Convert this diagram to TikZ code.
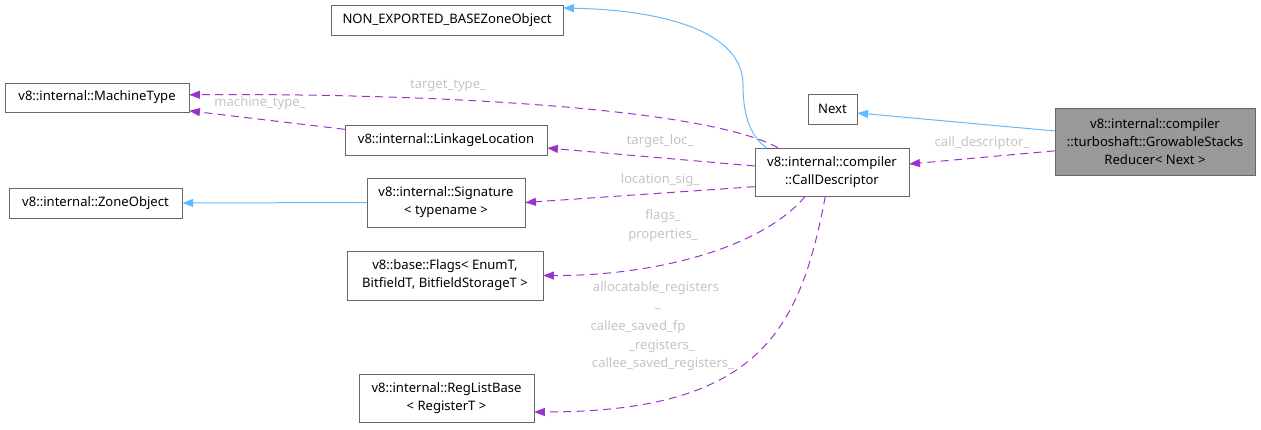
\documentclass[tikz,border=0pt]{standalone}
\usepackage{fontspec}
\setmainfont{Noto Sans}
\usepackage{tikz}
\usetikzlibrary{arrows.meta, positioning}

\begin{document}
\begin{tikzpicture}[x=0.75pt, y=-0.75pt, >={Triangle[length=8pt, width=6pt]},
    every node/.style={align=center, font=\fontsize{9.8}{13.5}\selectfont},
    cls/.style={draw=black!60, fill=white, inner sep=0pt, minimum height=22.5pt},
    inh/.style={->, draw=blueedge, line width=0.75pt},
    use/.style={->, draw=useedge, dash pattern=on 6pt off 4pt, line width=0.75pt},
    lbl/.style={text=lblgray}]
      \definecolor{blueedge}{HTML}{63B8FF}
      \definecolor{useedge}{HTML}{9A32CD} \definecolor{lblgray}{HTML}{C4C4C4}
      \useasboundingbox (0,0) rectangle (1261,429);
      % classes
      \node[cls, minimum width=174pt] (nonexp) at (447,20) {NON\_EXPORTED\_BASEZoneObject};
      \node[cls, minimum width=138pt, minimum height=22pt] (mtype) at (97,97.5) {v8::internal::MachineType};
      \node[cls, minimum width=151.5pt] (linkloc) at (446,140) {v8::internal::LinkageLocation};
      \node[cls, minimum width=130pt] (zoneobj) at (95.5,203) {v8::internal::ZoneObject};
      \node[cls, minimum width=118.5pt, minimum height=36.75pt] (sig) at (446,202.5) {v8::internal::Signature\\{}< typename >};
      \node[cls, minimum width=147pt, minimum height=36.75pt] (flags) at (445,275.5) {v8::base::Flags< EnumT,\\BitfieldT, BitfieldStorageT >};
      \node[cls, minimum width=131pt, minimum height=36pt] (reglist) at (446.5,398) {v8::internal::RegListBase\\{}< RegisterT >};
      \node[cls, minimum width=37pt] (next) at (832.5,109) {Next};
      \node[cls, minimum width=115.5pt, minimum height=36pt] (calldesc) at (832,172) {v8::internal::compiler\\::CallDescriptor};
      \node[cls, fill=black!40, minimum width=150pt, minimum height=50pt] (grow) at (1155,141.5) {v8::internal::compiler\\::turboshaft::GrowableStacks\\Reducer< Next >};
      % inheritance
      \draw[inh] ([yshift=7.9pt]grow.west) -- ([yshift=-3pt]next.east);
      \draw[inh] ([xshift=-49pt]calldesc.north) .. controls (748,135) and (743,110) .. (743,85)
            .. controls (743,30) and (660,10) .. ([yshift=9pt]nonexp.east);
      \draw[inh] (sig.west) -- (zoneobj.east);
      % usage
      \draw[use] ([yshift=-7pt]grow.west) -- ([yshift=6pt]calldesc.east);
      \draw[use] ([xshift=-40.5pt]calldesc.north) .. controls (700,105) and (400,93) .. ([yshift=2pt]mtype.east);
      \draw[use] ([yshift=8pt]linkloc.west) -- ([yshift=-10pt]mtype.east);
      \draw[use] ([yshift=4.5pt]calldesc.west) -- ([yshift=-6pt]linkloc.east);
      \draw[use] ([yshift=-11pt]calldesc.west) -- (sig.east);
      \draw[use] ([xshift=-20pt]calldesc.south) .. controls (760,250) and (650,276) .. (flags.east);
      \draw[use] ([xshift=-5pt]calldesc.south) .. controls (800,330) and (760,412) .. ([yshift=-10.5pt]reglist.east);
      % labels
      \node[lbl] (l1) at (982,143) {call\_descriptor\_};
      \node[lbl] (l2) at (448,86) {target\_type\_};
      \node[lbl] (l3) at (260,103) {machine\_type\_};
      \node[lbl] (l4) at (660,141) {target\_loc\_};
      \node[lbl] (l5) at (660,180) {location\_sig\_};
      \node[lbl] (l6) at (663,216) {flags\_};
      \node[lbl] (l7) at (663,235) {properties\_};
      \node[lbl] (l8) at (656,288) {allocatable\_registers};
      \node[lbl] (l9) at (658,309) {\_};
      \node[lbl] (l10) at (638,327) {callee\_saved\_fp};
      \node[lbl] (l11) at (662,346) {\_registers\_};
      \node[lbl] (l12) at (663,364) {callee\_saved\_registers\_};
    \end{tikzpicture}
\end{document}
